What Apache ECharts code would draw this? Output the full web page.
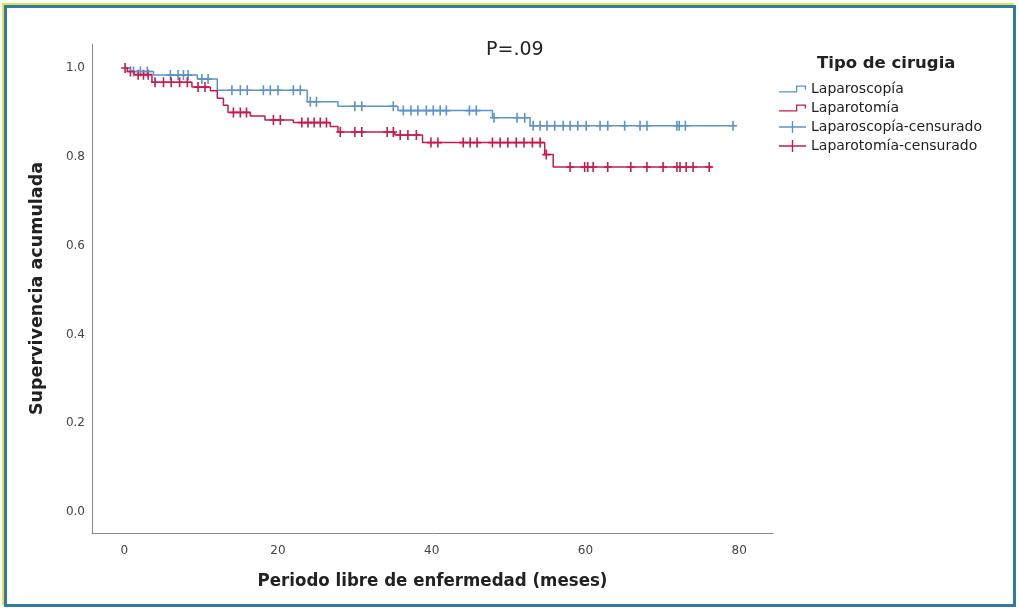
<!DOCTYPE html>
<html>
<head>
<meta charset="utf-8">
<script src="https://cdn.jsdelivr.net/npm/echarts@6/dist/echarts.min.js"></script>
<style>
  html, body { margin: 0; padding: 0; background: #fff; }
  #chart { position: absolute; left: 0; top: 0; width: 1019px; height: 610px; }
  #frame {
    position: absolute; left: 4px; top: 5px; width: 1006px; height: 596px;
    border: 3px solid #2f7ba8; box-shadow: -2px -2px 0 #e6e24a; pointer-events: none;
  }
</style>
</head>
<body>
<div id="chart"></div>
<div id="frame"></div>
<script>
// Laparoscopía: event times (months) and survival after each step
const lapTimes = [0, 0.8, 3.8, 9.5, 12.1, 23.8, 27.8, 35.6, 47.9, 52.8, 79.5]
const lapSurv = [1.0, 0.992, 0.984, 0.975, 0.950, 0.924, 0.914, 0.904, 0.888, 0.870, 0.870]
const lapCens = [1.2, 2.1, 3.0, 6.0, 7.0, 7.7, 8.3, 10.1, 10.9, 14.0, 15.1, 16.0, 18.1, 19.0, 20.0,
  22.0, 22.9, 24.2, 25.0, 30.0, 30.9, 35.0, 36.3, 37.3, 38.2, 39.3, 40.2, 41.1, 41.9, 44.9, 45.8,
  48.1, 51.1, 52.1, 53.2, 54.1, 55.0, 56.0, 57.1, 58.0, 59.0, 60.1, 61.9, 62.9, 65.1, 67.1, 68.0,
  71.9, 72.2, 73.0, 79.2]

// Laparotomía
const lptTimes = [0, 0.4, 1.3, 3.6, 8.8, 11.2, 12.1, 12.9, 13.5, 16.4, 18.3, 22.0, 26.8, 27.8, 35.2, 38.8, 54.7, 55.8, 76.5]
const lptSurv = [1.0, 0.992, 0.985, 0.968, 0.957, 0.949, 0.932, 0.916, 0.900, 0.892, 0.883, 0.877, 0.868, 0.856, 0.849, 0.832, 0.805, 0.777, 0.777]
const lptCens = [0.1, 0.8, 1.8, 2.5, 3.1, 4.0, 5.1, 6.1, 7.2, 8.2, 9.6, 10.5, 14.2, 15.1, 15.9, 19.4, 20.3,
  23.1, 23.9, 24.7, 25.5, 26.3, 28.1, 30.0, 30.9, 34.2, 35.0, 35.9, 36.9, 38.0, 39.9, 40.8, 44.1, 45.0,
  45.9, 47.9, 48.9, 49.9, 51.0, 52.0, 53.1, 54.1, 54.9, 58.0, 59.9, 60.3, 61.0, 62.9, 65.9, 68.0, 70.1,
  71.9, 72.3, 73.1, 74.0, 76.1]

const xTicks = [0, 20, 40, 60, 80]
const yTicks = [0, 0.2, 0.4, 0.6, 0.8, 1.0]

const blue = '#5b93cb'
const red = '#c61b4d'

const survAt = (times, surv, t) => {
  let s = surv[0]
  for (let i = 0; i < times.length; i++) if (times[i] <= t) s = surv[i]
  return s
}
const stepData = (times, surv) => times.map((t, i) => [t, surv[i]])
const censData = (cens, times, surv) => cens.map(t => [t, survAt(times, surv, t)])

const plusSymbol = 'path://M0,4.2 L8,4.2 L8,5.8 L0,5.8 Z M3.2,0 L4.8,0 L4.8,10 L3.2,10 Z'
const stepIcon = 'path://M0,9.3 L17,9.3 L17,3.5 L27,3.5 L27,7.5 L25.7,7.5 L25.7,4.8 L18.3,4.8 L18.3,10.7 L0,10.7 Z'
const censIcon = 'path://M0,5.3 L12.8,5.3 L12.8,0 L14.2,0 L14.2,5.3 L27,5.3 L27,6.7 L14.2,6.7 L14.2,12 L12.8,12 L12.8,6.7 L0,6.7 Z'

const font = 'DejaVu Sans'
const chart = echarts.init(document.getElementById('chart'))

chart.setOption({
  animation: false,
  backgroundColor: '#fff',
  title: [
    { text: 'P=.09', left: 481, top: 36, textStyle: { fontFamily: font, fontSize: 19, fontWeight: 'normal', color: '#222' } },
    { text: 'Tipo de cirugia', left: 812, top: 50, textStyle: { fontFamily: font, fontSize: 16.5, fontWeight: 'bold', color: '#222' } }
  ],
  legend: {
    orient: 'vertical',
    left: 774,
    top: 77,
    itemWidth: 27,
    itemHeight: 12,
    itemGap: 5,
    selectedMode: false,
    textStyle: { fontFamily: font, fontSize: 14, color: '#222' },
    data: [
      { name: 'Laparoscopía', icon: stepIcon, itemStyle: { color: blue, borderWidth: 0, opacity: 1 } },
      { name: 'Laparotomía', icon: stepIcon, itemStyle: { color: red, borderWidth: 0, opacity: 1 } },
      { name: 'Laparoscopía-censurado', icon: censIcon, itemStyle: { color: blue, borderWidth: 0, opacity: 1 } },
      { name: 'Laparotomía-censurado', icon: censIcon, itemStyle: { color: red, borderWidth: 0, opacity: 1 } }
    ]
  },
  grid: { left: 92, right: 246, top: 44, bottom: 77 },
  xAxis: {
    type: 'value',
    min: -4.2,
    max: 84.4,
    name: 'Periodo libre de enfermedad (meses)',
    nameLocation: 'middle',
    nameGap: 39,
    nameTextStyle: { fontFamily: 'DejaVu Sans Condensed', fontSize: 18.5, fontWeight: 'bold', color: '#222' },
    axisLine: { show: true, onZero: false, lineStyle: { color: '#8a8a8a', width: 1 } },
    axisTick: { show: false },
    splitLine: { show: false },
    axisLabel: { customValues: xTicks, margin: 12, fontFamily: font, fontSize: 12, color: '#444' }
  },
  yAxis: {
    type: 'value',
    min: -0.047,
    max: 1.054,
    name: 'Supervivencia acumulada',
    nameLocation: 'middle',
    nameGap: 46,
    nameTextStyle: { fontFamily: font, fontSize: 17.5, fontWeight: 'bold', color: '#222' },
    axisLine: { show: true, onZero: false, lineStyle: { color: '#8a8a8a', width: 1 } },
    axisTick: { show: false },
    splitLine: { show: false },
    axisLabel: { customValues: yTicks, margin: 7, fontFamily: font, fontSize: 12, color: '#444', formatter: v => v.toFixed(1) }
  },
  series: [
    {
      name: 'Laparoscopía', type: 'line', step: 'end', showSymbol: false,
      data: stepData(lapTimes, lapSurv),
      itemStyle: { color: blue }, lineStyle: { color: blue, width: 1.5 }
    },
    {
      name: 'Laparotomía', type: 'line', step: 'end', showSymbol: false,
      data: stepData(lptTimes, lptSurv),
      itemStyle: { color: red }, lineStyle: { color: red, width: 1.5 }
    },
    {
      name: 'Laparoscopía-censurado', type: 'scatter', symbol: plusSymbol, symbolSize: [8, 10],
      data: censData(lapCens, lapTimes, lapSurv), itemStyle: { color: blue, opacity: 1 }
    },
    {
      name: 'Laparotomía-censurado', type: 'scatter', symbol: plusSymbol, symbolSize: [8, 10],
      data: censData(lptCens, lptTimes, lptSurv), itemStyle: { color: red, opacity: 1 }
    }
  ]
})
</script>
</body>
</html>
